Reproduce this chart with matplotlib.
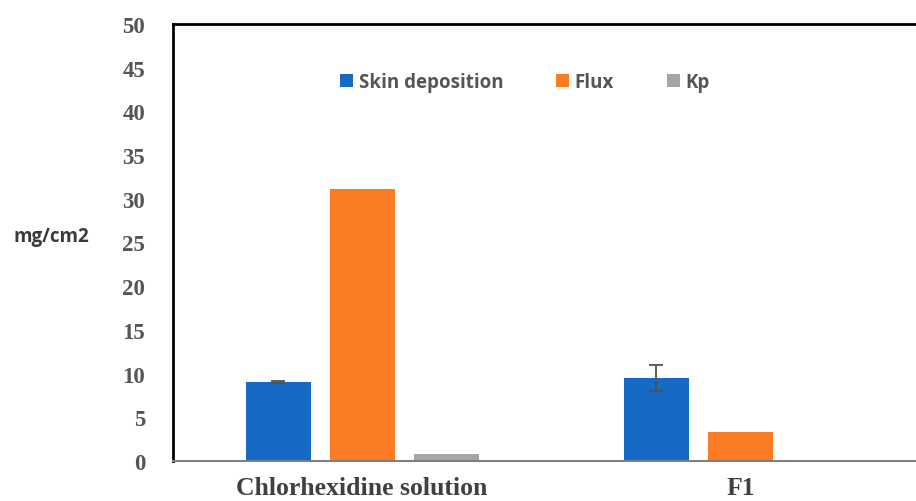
import matplotlib
matplotlib.use("Agg")
import matplotlib.pyplot as plt
import numpy as np

categories = ["Chlorhexidine solution", "F1"]
series_names = ["Skin deposition", "Flux", "Kp"]
skin_deposition = [9.05, 9.5]
skin_err = [0.15, 1.5]
flux = [31.1, 3.3]
kp = [0.75, 0.0]
yticks = [0, 5, 10, 15, 20, 25, 30, 35, 40, 45, 50]

colors = ["#1769c6", "#fb7c22", "#a5a5a5"]

W, H = 916, 502
fig = plt.figure(figsize=(W / 100, H / 100), dpi=100)
ax = fig.add_axes([173 / W, 1 - 462 / H, (929.5 - 173) / W, (462 - 25) / H])

x = np.arange(len(categories))
width = 0.172
step = 0.222
vals = [skin_deposition, flux, kp]
for i, (name, v) in enumerate(zip(series_names, vals)):
    ax.bar(x + (i - 1) * step, v, width, color=colors[i], label=name, zorder=2)
ax.errorbar(x - step, skin_deposition, yerr=skin_err, fmt="none",
            ecolor="#505050", elinewidth=1.3, capsize=5, capthick=1.3, zorder=3)

ax.set_xlim(-0.5, 1.5)
ax.set_ylim(0, 50)
ax.set_yticks(yticks)
ax.set_xticks(x)
ax.set_xticklabels(categories)
ax.tick_params(axis="both", length=0)
ax.tick_params(axis="y", pad=20)
ax.tick_params(axis="x", pad=11)
for lab in ax.get_yticklabels():
    lab.set_fontfamily("Liberation Serif")
    lab.set_fontweight("bold")
    lab.set_fontsize(16.5)
    lab.set_color("#555555")
for lab in ax.get_xticklabels():
    lab.set_fontfamily("Liberation Serif")
    lab.set_fontweight("bold")
    lab.set_fontsize(18.5)
    lab.set_color("#404040")

ax.spines["left"].set_color("black")
ax.spines["left"].set_linewidth(2)
ax.spines["top"].set_color("black")
ax.spines["top"].set_linewidth(2)
ax.spines["bottom"].set_color("#808080")
ax.spines["bottom"].set_linewidth(1.5)
ax.spines["right"].set_visible(False)

fig.text(51 / W, 1 - 237 / H, "mg/cm2", ha="center", va="center",
         fontsize=13.5, fontweight="bold", fontfamily="Open Sans", color="#3a3a3a")

leg = ax.legend(loc="center", bbox_to_anchor=((525 - 173) / (929.5 - 173), (462 - 83) / (462 - 25)),
                ncol=3, frameon=False, handlelength=0.7, handleheight=0.7,
                handletextpad=0.3, columnspacing=2.8,
                prop={"family": "Open Sans", "weight": "bold", "size": 13.5})
for t in leg.get_texts():
    t.set_color("#555555")

fig.savefig("out.png", dpi=100)
